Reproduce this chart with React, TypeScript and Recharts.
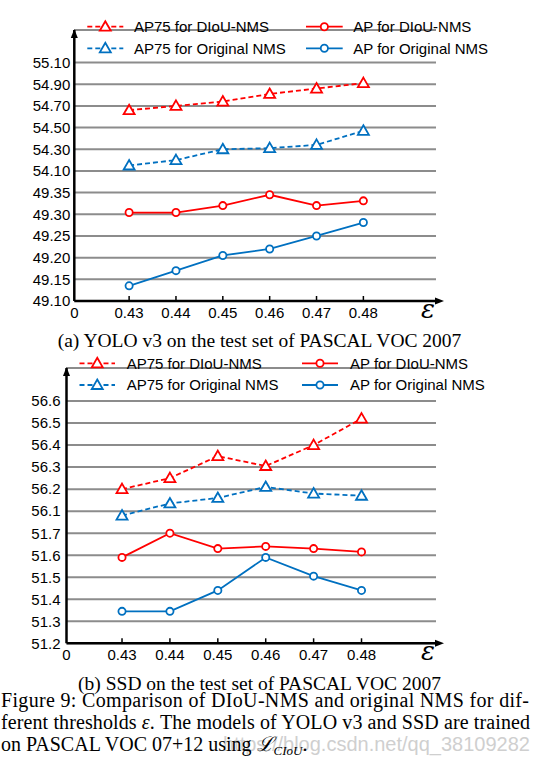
import { LineChart, Line, XAxis, YAxis, CartesianGrid, Legend, ReferenceDot } from 'recharts';

const RED = '#ff0000';
const BLUE = '#0070c0';
const SANS = '"Liberation Sans", Arial, sans-serif';
const SERIF = '"Liberation Serif", "Times New Roman", serif';

// thresholds on the x axis
const thresholds = [0.43, 0.44, 0.45, 0.46, 0.47, 0.48];

// (a) YOLO v3
const yoloAp75Diou = [54.66, 54.7, 54.74, 54.81, 54.86, 54.91];
const yoloAp75Orig = [54.15, 54.2, 54.3, 54.31, 54.34, 54.47];
const yoloApDiou = [49.304, 49.304, 49.32, 49.345, 49.32, 49.331];
const yoloApOrig = [49.135, 49.17, 49.205, 49.22, 49.25, 49.281];
const yoloTickLabels = ['49.10', '49.15', '49.20', '49.25', '49.30', '49.35', '54.10', '54.30', '54.50', '54.70', '54.90', '55.10'];

// (b) SSD
const ssdAp75Diou = [56.2, 56.25, 56.35, 56.305, 56.4, 56.52];
const ssdAp75Orig = [56.08, 56.135, 56.16, 56.21, 56.18, 56.17];
const ssdApDiou = [51.59, 51.7, 51.63, 51.64, 51.63, 51.615];
const ssdApOrig = [51.345, 51.345, 51.44, 51.59, 51.505, 51.44];
const ssdTickLabels = ['51.2', '51.3', '51.4', '51.5', '51.6', '51.7', '56.1', '56.2', '56.3', '56.4', '56.5', '56.6'];

const series = [
  { key: 'ap75D', name: 'AP75 for DIoU-NMS', color: RED, dashed: true },
  { key: 'apD', name: 'AP for DIoU-NMS', color: RED, dashed: false },
  { key: 'ap75O', name: 'AP75 for Original NMS', color: BLUE, dashed: true },
  { key: 'apO', name: 'AP for Original NMS', color: BLUE, dashed: false },
];

// broken y axis: 6 grid steps for AP below the break, 6 for AP75 above it
const buildRows = (
  ap75D: number[], ap75O: number[], apD: number[], apO: number[],
  lowBase: number, lowStep: number, highBase: number, highStep: number
) => {
  const lo = (v: number) => (v - lowBase) / lowStep;
  const hi = (v: number) => 6 + (v - highBase) / highStep;
  return thresholds.map((eps, i) => ({
    eps,
    ap75D: hi(ap75D[i]),
    ap75O: hi(ap75O[i]),
    apD: lo(apD[i]),
    apO: lo(apO[i]),
  }));
};

const yoloRows = buildRows(yoloAp75Diou, yoloAp75Orig, yoloApDiou, yoloApOrig, 49.1, 0.05, 54.1, 0.2);
const ssdRows = buildRows(ssdAp75Diou, ssdAp75Orig, ssdApDiou, ssdApOrig, 51.2, 0.1, 56.1, 0.1);

const triPath = (cx: number, cy: number) => `M${cx},${cy - 5.5} L${cx + 5.5},${cy + 4} L${cx - 5.5},${cy + 4} Z`;

const makeDot = (color: string, tri: boolean) => (p: any) =>
  tri ? (
    <path key={`d-${p.index}`} d={triPath(p.cx, p.cy)} fill="#fff" stroke={color} strokeWidth={1.8} />
  ) : (
    <circle key={`d-${p.index}`} cx={p.cx} cy={p.cy} r={3.6} fill="#fff" stroke={color} strokeWidth={1.8} />
  );

const UpArrow = ({ cx, cy }: any) => (
  <path d={`M${cx},${cy - 1} L${cx - 3.5},${cy + 8} L${cx + 3.5},${cy + 8} Z`} fill="#000" />
);

const RightArrow = ({ cx, cy }: any) => (
  <g>
    <path d={`M${cx + 8},${cy} L${cx - 1},${cy - 3.5} L${cx - 1},${cy + 3.5} Z`} fill="#000" />
    <text x={cx - 8} y={cy + 17} textAnchor="middle" fontSize={26} fontStyle="italic" fontFamily='"DejaVu Serif", serif'>
      ε
    </text>
  </g>
);

const XTick = ({ x, y, payload, origin }: any) => {
  const isOrigin = Math.abs(payload.value - origin) < 1e-6;
  return (
    <g>
      {!isOrigin && <line x1={x} x2={x} y1={y - 5} y2={y} stroke="#000" strokeWidth={1.5} />}
      <text x={x} y={y + 17} textAnchor="middle" fontSize={15} fontFamily={SANS} fill="#000">
        {isOrigin ? '0' : payload.value.toFixed(2)}
      </text>
    </g>
  );
};

const makeLegend = (lg: any) => () => {
  const cells = [
    { s: series[0], row: lg.row1, col: lg.col1 },
    { s: series[1], row: lg.row1, col: lg.col2 },
    { s: series[2], row: lg.row2, col: lg.col1 },
    { s: series[3], row: lg.row2, col: lg.col2 },
  ];
  return (
    <svg width={538} height={60} style={{ display: 'block' }}>
      {cells.map(({ s, row, col }) => {
        const mid = (col.l0 + col.l1) / 2;
        return (
          <g key={s.key}>
            <line x1={col.l0} x2={col.l1} y1={row} y2={row} stroke={s.color} strokeWidth={1.8} strokeDasharray={s.dashed ? '5 3' : undefined} />
            {s.dashed ? (
              <path d={triPath(mid, row)} fill="#fff" stroke={s.color} strokeWidth={1.8} />
            ) : (
              <circle cx={mid} cy={row} r={3.6} fill="#fff" stroke={s.color} strokeWidth={1.8} />
            )}
            <text x={col.text} y={row + 5.4} fontSize={15} fontFamily={SANS} fill="#000">
              {s.name}
            </text>
          </g>
        );
      })}
    </svg>
  );
};

const Panel = ({ rows, labels, height, originX, axisY, arrowY, xDomain, yTickMargin, legend }: any) => {
  const ticks = labels.map((_: string, i: number) => i);
  return (
    <LineChart
      width={538}
      height={height}
      data={rows}
      margin={{ top: arrowY, right: 102, left: originX - 60, bottom: height - axisY - 30 }}
    >
      <CartesianGrid vertical={false} stroke="#8c8c8c" strokeWidth={2} />
      <XAxis
        type="number"
        dataKey="eps"
        domain={xDomain}
        allowDataOverflow
        ticks={[xDomain[0], ...thresholds]}
        interval={0}
        height={30}
        tickSize={0}
        tickMargin={0}
        tickLine={false}
        axisLine={{ stroke: '#000', strokeWidth: 2.5 }}
        tick={<XTick origin={xDomain[0]} />}
      />
      <YAxis
        type="number"
        domain={[0, 12.5]}
        allowDataOverflow
        ticks={ticks}
        interval={0}
        width={60}
        tickSize={0}
        tickMargin={yTickMargin}
        tickLine={false}
        axisLine={{ stroke: '#000', strokeWidth: 2.5 }}
        tickFormatter={(v: number) => labels[v]}
        tick={{ fill: '#000', fontSize: 15, fontFamily: SANS }}
      />
      <Legend verticalAlign="middle" content={makeLegend(legend)} wrapperStyle={{ top: 0, left: 0, width: 538, height: 60 }} />
      {series.map((s) => (
        <Line
          key={s.key}
          dataKey={s.key}
          name={s.name}
          stroke={s.color}
          strokeWidth={1.8}
          strokeDasharray={s.dashed ? '5 3' : undefined}
          dot={makeDot(s.color, s.dashed)}
          activeDot={false}
          isAnimationActive={false}
        />
      ))}
      <ReferenceDot x={xDomain[0]} y={12.5} r={0} ifOverflow="visible" shape={UpArrow} />
      <ReferenceDot x={xDomain[1]} y={0} r={0} ifOverflow="visible" shape={RightArrow} />
    </LineChart>
  );
};

const Captions = () => (
  <svg width={538} height={765} style={{ position: 'absolute', left: 0, top: 0, pointerEvents: 'none' }}>
    <g fontFamily={SERIF} fill="#000">
      <text x={259.5} y={346.5} textAnchor="middle" fontSize={19.5}>
        (a) YOLO v3 on the test set of PASCAL VOC 2007
      </text>
      <text x={259.5} y={689.5} textAnchor="middle" fontSize={19.5}>
        (b) SSD on the test set of PASCAL VOC 2007
      </text>
      <text x={1} y={706.5} fontSize={20} textLength={528} lengthAdjust="spacing">
        Figure 9: Comparison of DIoU-NMS and original NMS for dif-
      </text>
      <text x={1} y={728.5} fontSize={20} textLength={529} lengthAdjust="spacing">
        ferent thresholds <tspan fontStyle="italic">ε</tspan>. The models of YOLO v3 and SSD are trained
      </text>
      <text x={223} y={750.5} fontSize={20} fontFamily={SANS} fill="#cfcfcf">
        https://blog.csdn.net/qq_38109282
      </text>
      <text x={1} y={750.5} fontSize={20}>
        on PASCAL VOC 07+12 using <tspan fontStyle="italic" fontFamily='"DejaVu Serif", serif'>ℒ</tspan>
        <tspan fontStyle="italic" fontSize={13} dy={4}>CIoU</tspan>
        <tspan dy={-4}>.</tspan>
      </text>
    </g>
  </svg>
);

export default function App() {
  return (
    <div style={{ position: 'absolute', left: 0, top: 0, width: 538, height: 765, background: '#fff', overflow: 'hidden' }}>
      <div style={{ position: 'absolute', left: 0, top: 0 }}>
        <Panel
          rows={yoloRows}
          labels={yoloTickLabels}
          height={335}
          originX={74.3}
          axisY={301}
          arrowY={30}
          xDomain={[0.4183, 0.4955]}
          yTickMargin={4}
          legend={{ row1: 26.7, row2: 48.3, col1: { l0: 87.3, l1: 123.3, text: 134 }, col2: { l0: 306, l1: 342.7, text: 353.3 } }}
        />
      </div>
      <div style={{ position: 'absolute', left: 0, top: 340 }}>
        <Panel
          rows={ssdRows}
          labels={ssdTickLabels}
          height={335}
          originX={66.5}
          axisY={303.3}
          arrowY={28}
          xDomain={[0.41841, 0.49555]}
          yTickMargin={6}
          legend={{ row1: 23.3, row2: 45, col1: { l0: 79.5, l1: 115, text: 126.7 }, col2: { l0: 302, l1: 338, text: 350 } }}
        />
      </div>
      <Captions />
    </div>
  );
}
